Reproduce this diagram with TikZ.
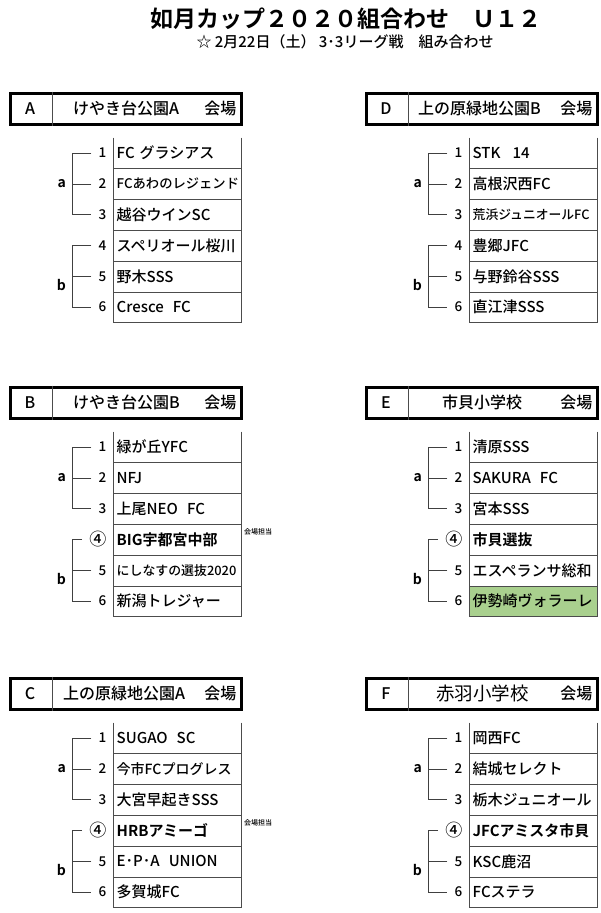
\documentclass[tikz,border=0pt]{standalone}
\usepackage{fontspec}
\setmainfont{Noto Sans CJK JP}[UprightFont={* Medium},BoldFont={* Bold}]
\newfontfamily\plainjp{Noto Sans CJK JP}
\usetikzlibrary{positioning,calc}
\definecolor{win-green}{HTML}{A9D08E}

\begin{document}
\begin{tikzpicture}[
  x=1pt,y=-1pt,
  title/.style={inner sep=0pt,font=\fontsize{23}{23}\selectfont\bfseries},
  subtitle/.style={inner sep=0pt,font=\fontsize{15}{15}\selectfont},
  hdr-box/.style={draw,line width=3pt,anchor=north west,
    minimum width=231pt,minimum height=31pt,inner sep=0pt},
  hdr-text/.style={inner sep=0pt,font=\fontsize{16}{16}\selectfont},
  hdr-rule/.style={draw=black!70,line width=.8pt},
  team-cell/.style={anchor=north west,minimum height=30.8pt,text width=121pt,
    inner xsep=3pt,inner ysep=0pt,align=left,font=\fontsize{15}{15}\selectfont},
  team-num/.style={anchor=east,inner xsep=7pt,inner ysep=0pt,
    font=\fontsize{13.5}{13.5}\selectfont},
  table-line/.style={draw=black!70,line width=.8pt},
  bracket/.style={draw=black!75,line width=.8pt},
  grp-label/.style={anchor=east,inner sep=1pt,font=\fontsize{14}{14}\selectfont\bfseries},
  duty-note/.style={anchor=west,inner sep=0pt,font=\fontsize{7}{7}\selectfont},
  ]
  \useasboundingbox (0,0) rectangle (600,913);
  \node[title] (cup-title) at (346,19) {如月カップ２０２０組合わせ　Ｕ１２};
  \node[subtitle] (cup-date) at (345,42) {☆ 2月22日（土） 3･3リーグ戦\quad 組み合わせ};

  % venue headers
  \foreach \blk/\bx/\by/\vx/\venue in {
      A/8.5/91.5/64.5/けやき台公園A,
      B/8.5/385.5/64.5/けやき台公園B,
      C/8.5/676.5/54.5/上の原緑地公園A,
      D/364.5/91.5/53.5/上の原緑地公園B,
      E/364.5/385.5/77.5/市貝小学校,
      F/364.5/676.5/71.5/{\plainjp\fontsize{18.5}{18.5}\selectfont 赤羽小学校}} {
    \node[hdr-box] (\blk-hdr) at (\bx,\by) {};
    \node[hdr-text] (\blk-letter) at ($(\blk-hdr.west)+(21.5,0)$) {\blk};
    \node[hdr-text,anchor=west] (\blk-venue) at ($(\blk-hdr.west)+(\vx,0)$) {\venue};
    \node[hdr-text,anchor=east] (\blk-kaijo) at ($(\blk-hdr.east)+(-6,0)$) {会場};
    \draw[hdr-rule] ($(\blk-hdr.north west)+(43.5,0)$) -- ($(\blk-hdr.south west)+(43.5,0)$);
    \coordinate (\blk-top) at ($(\blk-hdr.north west)+(105,46)$);
    \coordinate (\blk-brk) at ($(\blk-hdr.north west)+(63.5,0)$);
  }

  % teams
  \foreach \n/\num/\team in {1/1/{FC グラシアス},
      2/2/{\fontsize{13.3}{14}\selectfont FCあわのレジェンド},
      3/3/{越谷ウインSC},4/4/{スペリオール桜川},5/5/{野木SSS},
      6/6/{Cresce\hspace{.6em}FC}} {
    \node[team-cell] (A-t\n) at ($(A-top)+(0,{(\n-1)*30.8})$) {\team};
    \node[team-num] (A-n\n) at (A-t\n.west) {\num};
  }
  \foreach \n/\num/\team in {1/1/{緑が丘YFC},2/2/{NFJ},3/3/{上尾NEO\hspace{.6em}FC},
      4/{\fontsize{17}{17}\selectfont ④}/{\bfseries BIG宇都宮中部},
      5/5/{\fontsize{12.9}{14}\selectfont にしなすの選抜2020},6/6/{新潟トレジャー}} {
    \node[team-cell] (B-t\n) at ($(B-top)+(0,{(\n-1)*30.8})$) {\team};
    \node[team-num] (B-n\n) at (B-t\n.west) {\num};
  }
  \foreach \n/\num/\team in {1/1/{SUGAO\hspace{.6em}SC},
      2/2/{\fontsize{14}{14}\selectfont 今市FCプログレス},3/3/{大宮早起きSSS},
      4/{\fontsize{17}{17}\selectfont ④}/{\bfseries HRBアミーゴ},
      5/5/{E･P･A\hspace{.6em}UNION},6/6/{多賀城FC}} {
    \node[team-cell] (C-t\n) at ($(C-top)+(0,{(\n-1)*30.8})$) {\team};
    \node[team-num] (C-n\n) at (C-t\n.west) {\num};
  }
  \foreach \n/\num/\team in {1/1/{STK\hspace{.8em}14},2/2/{高根沢西FC},
      3/3/{\fontsize{12.8}{14}\selectfont 荒浜ジュニオールFC},
      4/4/{豊郷JFC},5/5/{与野鈴谷SSS},6/6/{直江津SSS}} {
    \node[team-cell] (D-t\n) at ($(D-top)+(0,{(\n-1)*30.8})$) {\team};
    \node[team-num] (D-n\n) at (D-t\n.west) {\num};
  }
  \foreach \n/\num/\team in {1/1/{清原SSS},2/2/{SAKURA\hspace{.6em}FC},3/3/{宮本SSS},
      4/{\fontsize{17}{17}\selectfont ④}/{\bfseries 市貝選抜},5/5/{エスペランサ総和}} {
    \node[team-cell] (E-t\n) at ($(E-top)+(0,{(\n-1)*30.8})$) {\team};
    \node[team-num] (E-n\n) at (E-t\n.west) {\num};
  }
  \node[team-cell,fill=win-green] (E-t6) at ($(E-top)+(0,{5*30.8})$) {伊勢崎ヴォラーレ};
  \node[team-num] (E-n6) at (E-t6.west) {6};
  \foreach \n/\num/\team in {1/1/{岡西FC},2/2/{結城セレクト},3/3/{栃木ジュニオール},
      4/{\fontsize{17}{17}\selectfont ④}/{\bfseries JFCアミスタ市貝},
      5/5/{KSC鹿沼},6/6/{FCステラ}} {
    \node[team-cell] (F-t\n) at ($(F-top)+(0,{(\n-1)*30.8})$) {\team};
    \node[team-num] (F-n\n) at (F-t\n.west) {\num};
  }

  \node[duty-note] (B-duty) at ($(B-t4.north east)+(3,8)$) {会場担当};
  \node[duty-note] (C-duty) at ($(C-t4.north east)+(3,8)$) {会場担当};

  % tables and brackets
  \foreach \blk in {A,B,C,D,E,F} {
    \draw[table-line] (\blk-t1.north west) -- (\blk-t6.south west);
    \draw[table-line] (\blk-t1.north east) -- (\blk-t6.south east);
    \foreach \n in {1,...,6}
      \draw[table-line] (\blk-t\n.south west) -- (\blk-t\n.south east);
    \draw[bracket] (\blk-n1.west) -- (\blk-n1.west -| \blk-brk)
      -- (\blk-n3.west -| \blk-brk) -- (\blk-n3.west);
    \draw[bracket] (\blk-n2.west) -- (\blk-n2.west -| \blk-brk);
    \draw[bracket] (\blk-n4.west) -- (\blk-n4.west -| \blk-brk)
      -- (\blk-n6.west -| \blk-brk) -- (\blk-n6.west);
    \draw[bracket] (\blk-n5.west) -- (\blk-n5.west -| \blk-brk);
    \node[grp-label] (\blk-a) at ($(\blk-n2.west -| \blk-brk)+(-5,0)$) {a};
    \node[grp-label] (\blk-b) at ($(\blk-n5.west -| \blk-brk)+(-5,9)$) {b};
  }
\end{tikzpicture}
\end{document}
